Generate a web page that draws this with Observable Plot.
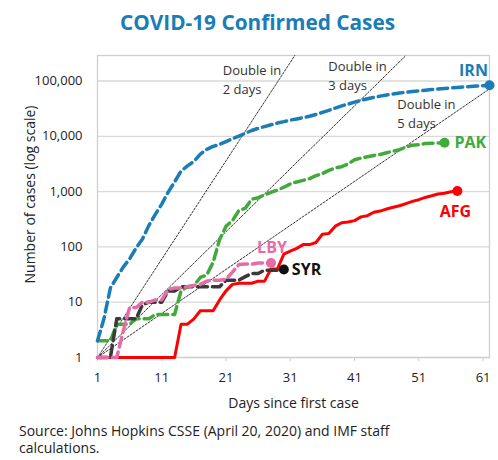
<!DOCTYPE html>
<html><head><meta charset="utf-8">
<script src="https://cdn.jsdelivr.net/npm/d3@7"></script>
<script src="https://cdn.jsdelivr.net/npm/@observablehq/plot@0.6"></script>
<style>
body{margin:0;width:498px;height:460px;position:relative;background:#fff;font-family:"Open Sans",sans-serif;overflow:hidden}
#title{position:absolute;left:17px;top:0;width:481px;height:40px;text-align:center;font-weight:700;font-size:20.8px;line-height:40px;color:#1a7db5;padding-top:2px}
#chart{position:absolute;left:0;top:40px}
#source{position:absolute;left:19px;top:422px;width:430px;font-size:14px;line-height:17px;color:#222}
</style></head>
<body>
<div id="title">COVID-19 Confirmed Cases</div>
<div id="chart"></div>
<div id="source">Source: Johns Hopkins CSSE (April 20, 2020) and IMF staff calculations.</div>
<script>
// Cumulative confirmed cases by day since first case
const irn = [2,5,18,28,43,61,95,139,245,388,593,978,1501,2336,2922,3513,4747,5823,6566,7161,8042,9000,10075,11364,12729,13938,14991,16169,17361,18407,19644,20610,21638,23049,24811,27017,29406,32332,35408,38309,41495,44605,47593,50468,53183,55743,58226,60500,62589,64586,66220,68192,70029,71686,73303,74877,76389,77995,79494,80868,82211,83505];
const pak = [2,2,2,4,4,4,5,5,5,6,6,6,6,16,19,20,28,31,53,136,236,299,454,501,730,776,875,972,1063,1201,1373,1495,1597,1717,1938,2118,2421,2686,2818,3157,3766,4035,4263,4489,4695,5038,5374,5716,6383,6919,7025,7400,7500,7560,7638];
const afg = [1,1,1,1,1,1,1,1,1,1,1,1,1,4,4,5,7,7,7,11,16,21,22,22,22,24,24,40,40,74,84,94,110,110,120,170,174,237,273,281,299,349,367,423,444,484,521,555,607,665,714,784,840,906,933,996,1026];
const lby = [1,1,1,1,3,8,8,10,10,11,11,17,18,18,19,20,21,24,25,25,26,35,48,49,49,51,51,51];
const syr = [1,1,1,5,5,5,5,9,10,10,10,16,16,19,19,19,19,19,19,19,25,25,25,29,33,33,38,38,38,39];

const countryNames = ["AFG","PAK","IRN","SYR","LBY"];
const xTicks = [1,11,21,31,41,51,61];
const yTicks = [1,10,100,1000,10000,100000];

// Doubling reference lines: start (day 1, 1 case) to end point
const refLabels = ["Double in\n2 days","Double in\n3 days","Double in\n5 days"];
const refEndDay = [31.7, 49, 62];
const refEndCases = [289000, 289000, 72000];

const seriesByName = {IRN: irn, PAK: pak, AFG: afg, LBY: lby, SYR: syr};
const colorByName = {IRN:"#1a7db5", PAK:"#42aa3a", AFG:"#ff0000", LBY:"#e56ca6", SYR:"#3a3a3a"};
const labelColor = {IRN:"#1a7db5", PAK:"#42aa3a", AFG:"#ff0000", LBY:"#e56ca6", SYR:"#111111"};
const dashByName = {IRN:"10,5", PAK:"10,5", AFG:null, LBY:"10,5", SYR:"10,5"};
const labelPos = {
  IRN:{dx:-16, dy:-14, textAnchor:"middle"},
  PAK:{dx:10, dy:0, textAnchor:"start"},
  AFG:{dx:-2, dy:21, textAnchor:"middle"},
  LBY:{dx:1, dy:-15, textAnchor:"middle"},
  SYR:{dx:8, dy:0, textAnchor:"start"}
};
const refLabelPos = [
  {dx:-72, dy:22.8},
  {dx:-77.7, dy:19.2},
  {dx:-92.3, dy:23.5}
];

const rows = name => seriesByName[name].map((v, i) => ({country: name, day: i + 1, cases: v}));
const refRows = refLabels.map((lab, i) => [
  {id: i, day: 1, cases: 1},
  {id: i, day: refEndDay[i], cases: refEndCases[i]}
]);

const marks = [
  Plot.gridY(yTicks, {stroke: "#d9d9d9", strokeOpacity: 1, strokeWidth: 1.3}),
  Plot.frame({stroke: "#cfcfcf", strokeWidth: 1.3}),
  Plot.axisX(xTicks, {tickSize: 4, tickPadding: 11, fontSize: 13, stroke: "#cccccc", label: null}),
  Plot.axisY(yTicks, {tickSize: 0, tickPadding: 15, fontSize: 13, tickFormat: d3.format(","), label: null}),
  Plot.text(["Number of cases (log scale)"], {frameAnchor: "left", textAnchor: "middle", lineAnchor: "middle", rotate: -90, dx: -67, dy: -12, fontSize: 14, text: d => d, fill: "#222"}),
  Plot.text(["Days since first case"], {frameAnchor: "bottom", textAnchor: "middle", lineAnchor: "middle", dy: 46, fontSize: 14, text: d => d, fill: "#222"})
];
refRows.forEach((pts, i) => {
  marks.push(Plot.line(pts, {x: "day", y: "cases", stroke: "#333", strokeWidth: 1, strokeDasharray: "2,1.6"}));
  marks.push(Plot.text([pts[1]], {x: "day", y: "cases", text: () => refLabels[i], textAnchor: "start", lineAnchor: "middle", lineHeight: 1.43, fontSize: 13, fill: "#333", dx: refLabelPos[i].dx, dy: refLabelPos[i].dy}));
});
countryNames.forEach(name => {
  const data = rows(name);
  const last = data[data.length - 1];
  marks.push(Plot.line(data, {x: "day", y: "cases", stroke: colorByName[name], strokeWidth: name === "AFG" ? 3 : 3.5, strokeDasharray: dashByName[name], curve: "linear"}));
  marks.push(Plot.dot([last], {x: "day", y: "cases", r: 5, fill: labelColor[name], stroke: "none"}));
  marks.push(Plot.text([last], {x: "day", y: "cases", text: "country", fill: labelColor[name], fontWeight: 700, fontSize: 16, ...labelPos[name]}));
});

const chart = Plot.plot({
  width: 498,
  height: 375,
  marginTop: 15,
  marginBottom: 58,
  marginLeft: 97,
  marginRight: 9,
  style: {fontFamily: "'Open Sans', sans-serif", color: "#222", background: "#fff"},
  x: {type: "linear", domain: [1, 62]},
  y: {type: "log", domain: [1, 289000]},
  marks
});
document.getElementById("chart").appendChild(chart);
</script>
</body></html>
